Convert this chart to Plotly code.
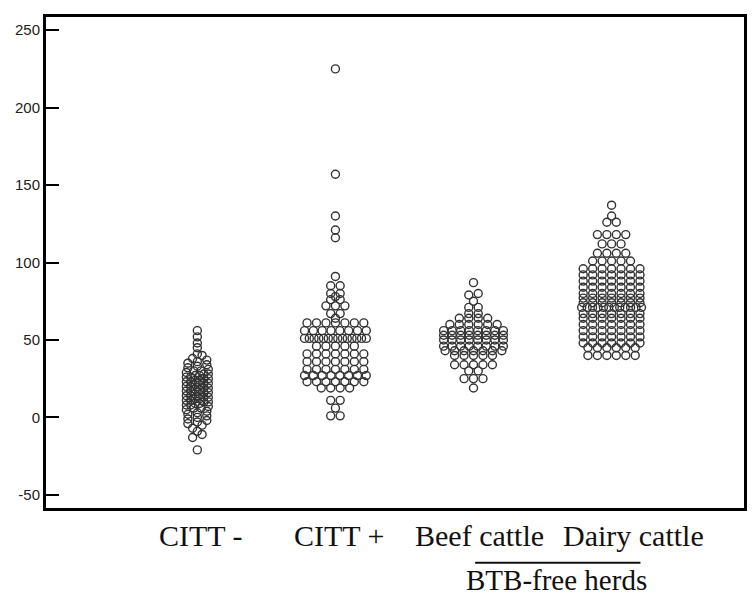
import plotly.graph_objects as go

# ---------------- data ----------------
groups = ["CITT -", "CITT +", "Beef cattle", "Dairy cattle"]
group_pos = [1, 2, 3, 4]

citt_neg = [56, 52, 48, 45,
            41, 40, 38, 37, 36, 35, 34, 33, 32, 31, 30, 30, 29, 28, 28, 27, 27,
            26, 26, 25, 25, 24, 24, 23, 23, 22, 22, 21, 21, 20, 20, 19, 19, 18,
            18, 17, 17, 16, 16, 15, 15, 14, 14, 13, 13, 12, 12, 11, 11, 10, 10,
            9, 9, 8, 8, 7, 6, 6, 5, 4, 3, 2, 1, 0, -1, -2, -3, -4, -5, -7, -9,
            -11, -13, -21]

citt_pos = [225, 157, 130, 121, 116,
            91, 85, 85, 80, 80, 78, 76, 76, 72, 72, 72, 67, 67, 64,
            61, 61, 61, 61, 61, 61, 61,
            56, 56, 56, 56, 56, 56, 56, 56,
            51, 51, 51, 51, 51, 51, 51, 51, 51, 51, 51, 51, 51, 51,
            46, 46, 46, 46, 46,
            41, 41, 41, 41, 41, 41, 41,
            36, 36, 36, 36, 36, 36, 36,
            31, 31, 31, 31, 31, 31, 31,
            27, 27, 27, 27, 27, 27, 27, 27,
            23, 23, 23, 23, 23, 23, 23,
            19, 19, 19, 19,
            11, 11, 6, 1, 1]

beef = [87, 80, 79, 75, 71, 71, 67, 67,
        64, 64, 64, 64,
        60, 60, 60, 60, 60, 60,
        56, 56, 56, 56, 56, 56, 56, 56,
        53, 53, 53, 53, 53, 53, 53, 53,
        50, 50, 50, 50, 50, 50, 50, 50,
        46, 46, 46, 46, 46, 46, 46, 46,
        43, 43, 43, 43, 43, 43, 43,
        40, 40, 40, 40, 40,
        34, 34, 34, 34, 34,
        30, 30, 25, 25, 25, 19]

dairy = [137, 130, 126, 126,
         118, 118, 118, 118,
         112, 112, 112,
         106, 106, 106, 106,
         101, 101, 101, 101, 101,
         96, 96, 96, 96, 96, 96, 96,
         92, 92, 92, 92, 92, 92, 92,
         88, 88, 88, 88, 88, 88, 88,
         84, 84, 84, 84, 84, 84, 84,
         80, 80, 80, 80, 80, 80, 80,
         77, 77, 77, 77, 77, 77, 77,
         74, 74, 74, 74, 74, 74, 74,
         71, 71, 71, 71, 71, 71, 71, 71, 71, 71, 71, 71,
         67, 67, 67, 67, 67, 67, 67,
         64, 64, 64, 64, 64, 64, 64,
         60, 60, 60, 60, 60, 60, 60,
         56, 56, 56, 56, 56, 56, 56,
         52, 52, 52, 52, 52, 52, 52,
         48, 48, 48, 48, 48, 48, 48,
         45, 45, 45, 45, 45, 45,
         40, 40, 40, 40, 40, 40]

y_ticks = [-50, 0, 50, 100, 150, 200, 250]

# ---------------- layout helpers ----------------
OFF = 8                      # page body margin in the browser
W, H = 745, 590              # figure size
PL, PR, PT, PB = 46 - OFF, 747 - OFF, 15 - OFF, 508 - OFF   # plot area in fig px
Y_RANGE = [-58.5, 258.5]
X_RANGE = [-0.096, 4.959]
px_x = (PR - PL) / (X_RANGE[1] - X_RANGE[0])

# per-group row bin width (data units), point spacing and max row width (px)
settings = [(3, 9.5, 22), (2, 9.5, 62), (2, 9.5, 60), (2, 9.5, 60)]


def swarm(values, center, bin_w, spacing, max_w):
    rows = {}
    for v in values:
        rows.setdefault(round(v / bin_w), []).append(v)
    xs, ys = [], []
    for key in sorted(rows):
        vs = sorted(rows[key])
        n = len(vs)
        sp = spacing if n <= 1 else min(spacing, max_w / (n - 1))
        for i, v in enumerate(vs):
            off = (i - (n - 1) / 2) * sp
            xs.append(center + off / px_x)
            ys.append(v)
    return xs, ys


fig = go.Figure()
for name, pos, vals, st in zip(groups, group_pos,
                               [citt_neg, citt_pos, beef, dairy], settings):
    xs, ys = swarm(vals, pos, *st)
    fig.add_trace(go.Scatter(
        x=xs, y=ys, mode="markers", name=name, showlegend=False,
        marker=dict(symbol="circle-open", size=8, color="#333333",
                    line=dict(width=1.4, color="#333333")),
        hoverinfo="y"))


def px2paper_x(px):          # px given in page coordinates
    return (px - OFF - PL) / (PR - PL)


def px2paper_y(py):
    return (PB - (py - OFF)) / (PB - PT)


label_px = [202, 341, 481.5, 636.5]
serif = "Liberation Serif, Times New Roman, serif"
annotations = []
for txt, px in zip(groups, label_px):
    annotations.append(dict(
        text=txt, x=px2paper_x(px), y=px2paper_y(536), xref="paper", yref="paper",
        xanchor="center", yanchor="middle", showarrow=False, borderpad=0,
        font=dict(family=serif, size=30, color="#111")))
annotations.append(dict(
    text="BTB-free herds", x=px2paper_x(559), y=px2paper_y(580.5),
    xref="paper", yref="paper", xanchor="center", yanchor="middle",
    showarrow=False, borderpad=0,
    font=dict(family=serif, size=29, color="#111")))

fig.add_shape(type="line", xref="paper", yref="paper",
              x0=px2paper_x(477), x1=px2paper_x(643),
              y0=px2paper_y(563), y1=px2paper_y(563),
              line=dict(color="#111", width=2))

fig.update_layout(
    width=W, height=H,
    margin=dict(l=PL, r=W - PR, t=PT, b=H - PB, pad=0),
    paper_bgcolor="white", plot_bgcolor="white",
    annotations=annotations,
    xaxis=dict(range=X_RANGE, showgrid=False, zeroline=False,
               showticklabels=False, ticks="", showline=True,
               linecolor="black", linewidth=3, mirror=True, fixedrange=True),
    yaxis=dict(range=Y_RANGE, tickvals=y_ticks,
               ticktext=[str(t) for t in y_ticks],
               showgrid=False, zeroline=False, showline=True,
               linecolor="black", linewidth=3, mirror=True,
               ticks="inside", ticklen=13, tickwidth=2, tickcolor="black",
               tickfont=dict(family="Liberation Sans, Arial, sans-serif",
                             size=15, color="#222"),
               fixedrange=True),
)

fig.write_html("out.html")
